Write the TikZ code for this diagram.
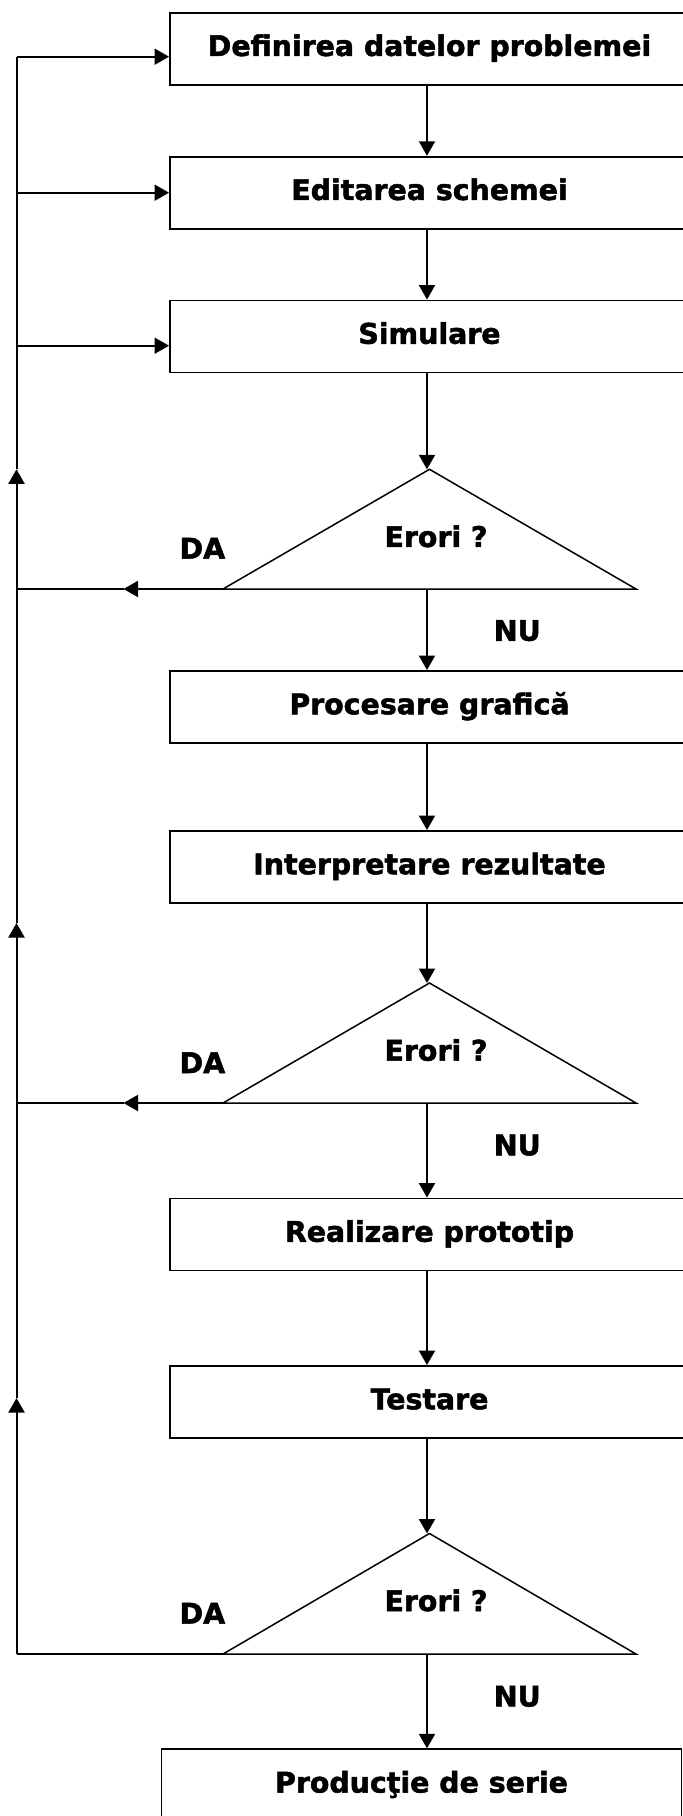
\documentclass[tikz,border=0pt]{standalone}
\usepackage{fontspec}
\setmainfont{DejaVu Sans}[BoldFeatures={FakeBold=1.8}]
\usetikzlibrary{arrows.meta}
\begin{document}
\begin{tikzpicture}[x=1pt,y=-1pt,line width=2pt,
  txt/.style={font=\fontsize{28.4}{34}\selectfont\bfseries,text height=21pt,text depth=6.5pt,inner sep=0pt},
  box/.style={txt,draw,line width=1.9pt,minimum width=519pt,minimum height=72pt},
  lbl/.style={txt},
  tri/.style={draw,line width=1.5pt,line join=miter},
  arr/.style={-{Triangle[length=14.5pt,width=16pt]}}]
\useasboundingbox (0,0) rectangle (683,1816);
\fill[white] (0,0) rectangle (683,1816);
\clip (0,0) rectangle (683,1816);
% boxes
\node[box] (b1) at (429.5,48.7) {Definirea datelor problemei};
\node[box] (b2) at (429.5,192.7) {Editarea schemei};
\node[box] (b3) at (429.5,336.5) {Simulare};
\node[box] (b4) at (429.5,707) {Procesare grafică};
\node[box] (b5) at (429.5,867) {Interpretare rezultate};
\node[box] (b6) at (429.5,1234.5) {Realizare prototip};
\node[box] (b7) at (429.5,1402) {Testare};
\node[box,minimum width=520pt] (b8) at (421.5,1785.3) {Producţie de serie};
% triangles
\coordinate (t1a) at (429.5,469.3); \coordinate (t1l) at (223,589); \coordinate (t1r) at (636,589);
\coordinate (t2a) at (429.5,983);   \coordinate (t2l) at (223,1103); \coordinate (t2r) at (636,1103);
\coordinate (t3a) at (429.5,1533.5); \coordinate (t3l) at (223,1654); \coordinate (t3r) at (636,1654);
\draw[tri] (t1a) -- (t1r) -- (t1l) -- cycle;
\draw[tri] (t2a) -- (t2r) -- (t2l) -- cycle;
\draw[tri] (t3a) -- (t3r) -- (t3l) -- cycle;
\coordinate (t1i) at (427,469.3); \coordinate (t1o) at (427,589);
\coordinate (t2i) at (427,983);   \coordinate (t2o) at (427,1103);
\coordinate (t3i) at (427,1533.5); \coordinate (t3o) at (427,1654);
% labels
\node[lbl] (e1) at (436,539.7) {Erori ?};
\node[lbl] (e2) at (436,1053.4) {Erori ?};
\node[lbl] (e3) at (436,1603.8) {Erori ?};
\node[lbl] (da1) at (202.4,551.3) {DA};
\node[lbl] (da2) at (202.4,1065.8) {DA};
\node[lbl] (da3) at (202.4,1616.3) {DA};
\node[lbl] (nu1) at (517.3,633.5) {NU};
\node[lbl] (nu2) at (517.3,1148) {NU};
\node[lbl] (nu3) at (517.3,1699.2) {NU};
% main vertical flow
\draw[arr] ([xshift=-2.5pt]b1.south) -- ([xshift=-2.5pt]b2.north);
\draw[arr] ([xshift=-2.5pt]b2.south) -- ([xshift=-2.5pt]b3.north);
\draw[arr] ([xshift=-2.5pt]b3.south) -- (t1i);
\draw[arr] (t1o) -- ([xshift=-2.5pt]b4.north);
\draw[arr] ([xshift=-2.5pt]b4.south) -- ([xshift=-2.5pt]b5.north);
\draw[arr] ([xshift=-2.5pt]b5.south) -- (t2i);
\draw[arr] (t2o) -- ([xshift=-2.5pt]b6.north);
\draw[arr] ([xshift=-2.5pt]b6.south) -- ([xshift=-2.5pt]b7.north);
\draw[arr] ([xshift=-2.5pt]b7.south) -- (t3i);
\draw[arr] (t3o) -- (t3o |- b8.north);
% feedback line
\coordinate (c0) at (16.5,56.7);
\coordinate (c1) at (16.5,192.7);
\coordinate (c2) at (16.5,345.7);
\coordinate (u1) at (16.5,469.3);
\coordinate (d1) at (16.5,589);
\coordinate (u2) at (16.5,923);
\coordinate (d2) at (16.5,1103);
\coordinate (u3) at (16.5,1398);
\coordinate (d3) at (16.5,1654);
\coordinate (m1) at (123.5,589);
\coordinate (m2) at (123.5,1103);
\draw[arr] (t1l) -- (m1); \draw (m1) -- (d1);
\draw[arr] (t2l) -- (m2); \draw (m2) -- (d2);
\draw (t3l) -- (d3);
\draw[arr] (d3) -- (u3); \draw (u3) -- (d2);
\draw[arr] (d2) -- (u2); \draw (u2) -- (d1);
\draw[arr] (d1) -- (u1); \draw (u1) -- (c0);
\draw[arr] (c0) -- (c0 -| b1.west);
\draw[arr] (c1) -- (c1 -| b2.west);
\draw[arr] (c2) -- (c2 -| b3.west);
\end{tikzpicture}
\end{document}
